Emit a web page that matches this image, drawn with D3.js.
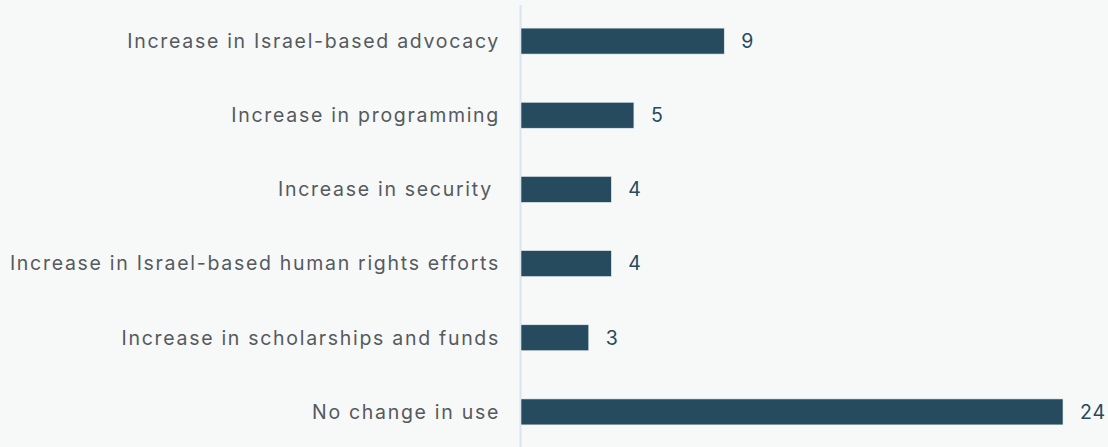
<!DOCTYPE html>
<html>
<head>
<meta charset="utf-8">
<script src="https://cdn.jsdelivr.net/npm/d3@7"></script>
<style>
  html, body { margin: 0; padding: 0; background: #f7f8f8; }
  svg { display: block; }
  .cat { white-space: pre; }
</style>
</head>
<body>
<svg id="chart" width="1108" height="447"></svg>
<script>
const categories = [
  "Increase in Israel-based advocacy",
  "Increase in programming",
  "Increase in security ",
  "Increase in Israel-based human rights efforts",
  "Increase in scholarships and funds",
  "No change in use"
];
const values = [9, 5, 4, 4, 3, 24];

const width = 1108, height = 447;
const x0 = 521, x1 = 1063;

const svg = d3.select("#chart");

const x = d3.scaleLinear().domain([0, 24]).range([x0, x1]);
const y = d3.scaleBand().domain(categories).range([4, 449])
  .paddingInner(0.65).paddingOuter(0.325);

// vertical baseline
svg.append("line")
  .attr("x1", x0 - 0.5).attr("x2", x0 - 0.5)
  .attr("y1", 5).attr("y2", height)
  .attr("stroke", "#d9e5ef").attr("stroke-width", 2);

// bars
svg.append("g").selectAll("rect").data(values).join("rect")
  .attr("x", x(0))
  .attr("y", (d, i) => y(categories[i]))
  .attr("width", d => x(d) - x(0))
  .attr("height", y.bandwidth())
  .attr("fill", "#264a5e")
  .attr("stroke", "#e4ecf1").attr("stroke-width", 0.6);

// category labels
svg.append("g").selectAll("text").data(categories).join("text")
  .attr("class", "cat")
  .attr("x", 500)
  .attr("y", d => y(d) + y.bandwidth() / 2)
  .attr("dy", "0.35em")
  .attr("text-anchor", "end")
  .attr("font-family", "Inter, 'Open Sans', sans-serif")
  .attr("font-size", 19.5)
  .attr("letter-spacing", "1.7px")
  .attr("fill", "#555a5e")
  .text(d => d);

// value labels
svg.append("g").selectAll("text").data(values).join("text")
  .attr("x", d => x(d) + 17)
  .attr("y", (d, i) => y(categories[i]) + y.bandwidth() / 2)
  .attr("dy", "0.35em")
  .attr("font-family", "Inter, 'Open Sans', sans-serif")
  .attr("font-size", 19.5)
  .attr("letter-spacing", "1px")
  .attr("fill", "#264a5e")
  .text(d => d);
</script>
</body>
</html>
